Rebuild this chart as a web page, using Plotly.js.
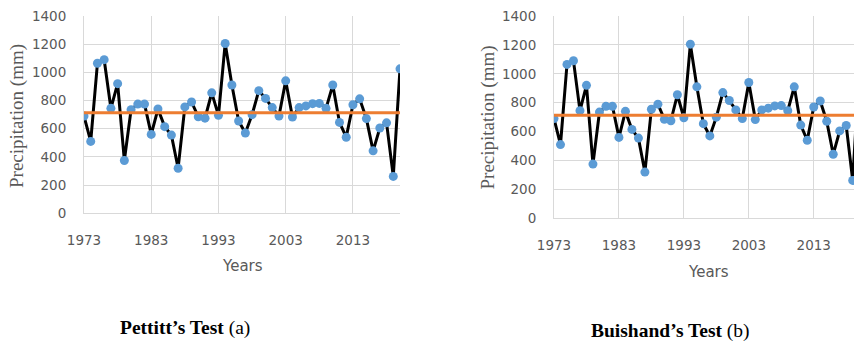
<!DOCTYPE html>
<html>
<head>
<meta charset="utf-8">
<script src="https://cdn.plot.ly/plotly-3.0.1.min.js"></script>
<style>
  html, body { margin: 0; padding: 0; background: #ffffff; }
  #chart { width: 854px; height: 347px; }
</style>
</head>
<body>
<div id="chart"></div>
<script>
// Annual precipitation series (mm), 1973–2020
const years = [
  1973, 1974, 1975, 1976, 1977, 1978, 1979, 1980, 1981, 1982,
  1983, 1984, 1985, 1986, 1987, 1988, 1989, 1990, 1991, 1992,
  1993, 1994, 1995, 1996, 1997, 1998, 1999, 2000, 2001, 2002,
  2003, 2004, 2005, 2006, 2007, 2008, 2009, 2010, 2011, 2012,
  2013, 2014, 2015, 2016, 2017, 2018, 2019, 2020
];
const precipitation = [
  690, 510, 1065, 1090, 745, 920, 375, 735, 775, 775,
  560, 740, 615, 555, 320, 755, 790, 685, 675, 855,
  695, 1205, 910, 655, 570, 700, 870, 815, 750, 690,
  940, 683, 750, 762, 778, 780, 745, 910, 645, 540,
  770, 812, 672, 443, 605, 642, 262, 1025
];
// Homogeneity level drawn as the orange reference line
const meanYears = [1973, 2020];
const meanLevel = [713, 713];

const yTickVals = [0, 200, 400, 600, 800, 1000, 1200, 1400];
const xTickVals = [1973, 1983, 1993, 2003, 2013];

const W = 854, H = 347;
const px = v => v / W;
const py = v => 1 - v / H;

const gridColor = '#d9d9d9';
const labelColor = '#595959';
const tickFont = { family: 'DejaVu Sans, sans-serif', size: 13.5, color: labelColor };

function seriesTraces(xa, ya) {
  return [
    {
      x: years, y: precipitation, xaxis: xa, yaxis: ya,
      type: 'scatter', mode: 'lines+markers',
      line: { color: '#000000', width: 3 },
      marker: { color: '#5b9bd5', size: 9 },
      showlegend: false, hoverinfo: 'x+y'
    },
    {
      x: meanYears, y: meanLevel, xaxis: xa, yaxis: ya,
      type: 'scatter', mode: 'lines',
      line: { color: '#ed7d31', width: 3 },
      showlegend: false, hoverinfo: 'y'
    }
  ];
}

function xAxis(domain, range, anchor) {
  return {
    domain: domain, range: range, anchor: anchor,
    tickmode: 'array', tickvals: xTickVals, ticktext: xTickVals.map(String),
    showgrid: true, gridcolor: gridColor, gridwidth: 1,
    showline: true, linecolor: gridColor, linewidth: 1,
    zeroline: false, ticks: '', ticklabelstandoff: 14,
    tickfont: tickFont, fixedrange: true, automargin: false
  };
}

function yAxis(domain, anchor) {
  return {
    domain: domain, range: [0, 1400], anchor: anchor,
    tickmode: 'array', tickvals: yTickVals, ticktext: yTickVals.map(String),
    showgrid: true, gridcolor: gridColor, gridwidth: 1,
    showline: true, linecolor: gridColor, linewidth: 1,
    zeroline: false, ticks: '', ticklabelstandoff: 14,
    tickfont: tickFont, fixedrange: true, automargin: false
  };
}

const serif = 'Liberation Serif, Times New Roman, serif';
const annotations = [
  { text: 'Precipitation (mm)', x: px(17), y: py(116), textangle: -90,
    font: { family: serif, size: 19, color: labelColor } },
  { text: 'Precipitation (mm)', x: px(487), y: py(117.5), textangle: -90,
    font: { family: serif, size: 19, color: labelColor } },
  { text: 'Years', x: px(243), y: py(266),
    font: { family: 'DejaVu Sans, sans-serif', size: 15, color: labelColor } },
  { text: 'Years', x: px(708), y: py(271.5),
    font: { family: 'DejaVu Sans, sans-serif', size: 15, color: labelColor } },
  { text: '<b>Pettitt’s Test</b> (a)', x: px(185), y: py(328),
    font: { family: serif, size: 19.5, color: '#000000' } },
  { text: '<b>Buishand’s Test</b> (b)', x: px(670), y: py(331),
    font: { family: serif, size: 19.5, color: '#000000' } }
].map(a => Object.assign({ xref: 'paper', yref: 'paper', xanchor: 'center',
  yanchor: 'middle', showarrow: false }, a));

const data = seriesTraces('x', 'y').concat(seriesTraces('x2', 'y2'));

const layout = {
  width: W, height: H,
  margin: { l: 0, r: 0, t: 0, b: 0, pad: 0 },
  paper_bgcolor: '#ffffff', plot_bgcolor: '#ffffff',
  showlegend: false,
  xaxis: xAxis([px(84), px(400)], [1973, 2020], 'y'),
  yaxis: yAxis([py(213.3), py(16)], 'x'),
  xaxis2: xAxis([px(554), 1], [1973, 2019.2], 'y2'),
  yaxis2: yAxis([py(218.3), py(16)], 'x2'),
  annotations: annotations
};

Plotly.newPlot('chart', data, layout, { displayModeBar: false, staticPlot: true });
</script>
</body>
</html>
